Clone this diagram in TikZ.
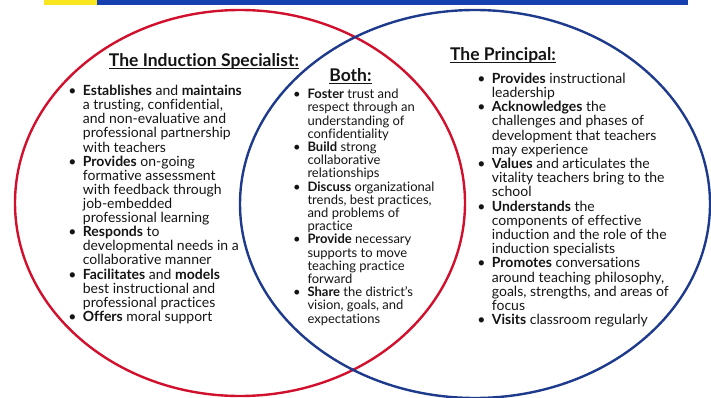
\documentclass[tikz,border=0pt]{standalone}
\usepackage{fontspec}
\setmainfont{Lato}[Ligatures=NoCommon]
\definecolor{ringred}{RGB}{208,16,44}
\definecolor{ringblue}{RGB}{30,58,140}
\definecolor{barblue}{RGB}{22,64,176}
\definecolor{baryellow}{RGB}{250,230,30}
\definecolor{txt}{RGB}{20,20,20}
\newcommand\bul{\llap{\makebox[21pt][c]{\textbullet}}}
\begin{document}
\begin{tikzpicture}[x=1pt,y=-1pt,
  body/.style={anchor=base west, inner sep=0pt, font=\fontsize{14}{14}\selectfont, text=txt},
  bodysm/.style={body, font=\fontsize{13}{13}\selectfont},
  title/.style={anchor=base, inner sep=0pt, font=\bfseries\fontsize{17.5}{17.5}\selectfont, text=txt},
  ring/.style={line width=2.4pt},
  uline/.style={line width=1.3pt, draw=txt},
]
\useasboundingbox (0,0) rectangle (711,398);
% top bar
\fill[baryellow] (44,0) rectangle (97,4.6);
\fill[barblue] (97,0) rectangle (688,4.6);
% rings
\draw[ring, ringred] (240,203) ellipse [x radius=225pt, y radius=193pt];
\draw[ring, ringblue] (475,204) ellipse [x radius=235pt, y radius=194pt];
% titles
\node[title] (T1) at (204,66.7) {The Induction Specialist:};
\node[title] (T2) at (350.5,81.5) {Both:};
\node[title] (T3) at (503,60.7) {The Principal:};
\foreach \n in {T1,T2,T3}
  \draw[uline] ([yshift=-2pt]\n.base west) -- ([yshift=-2pt]\n.base east);
% left list
\foreach \t [count=\i from 0] in {
  {\bul\textbf{Establishes} and \textbf{maintains}},
  {a trusting, confidential,},
  {and non-evaluative and},
  {professional partnership},
  {with teachers},
  {\bul\textbf{Provides} on-going},
  {formative assessment},
  {with feedback through},
  {job-embedded},
  {professional learning},
  {\bul\textbf{Responds} to},
  {developmental needs in a},
  {collaborative manner},
  {\bul\textbf{Facilitates} and \textbf{models}},
  {best instructional and},
  {professional practices},
  {\bul\textbf{Offers} moral support}}
  \node[body] (L\i) at (82.7,{95.7+\i*14.1}) {\t};
% middle list
\foreach \t [count=\i from 0] in {
  {\bul\textbf{Foster} trust and},
  {respect through an},
  {understanding of},
  {confidentiality},
  {\bul\textbf{Build} strong},
  {collaborative},
  {relationships},
  {\bul\textbf{Discuss} organizational},
  {trends, best practices,},
  {and problems of},
  {practice},
  {\bul\textbf{Provide} necessary},
  {supports to move},
  {teaching practice},
  {forward},
  {\bul\textbf{Share} the district's},
  {vision, goals, and},
  {expectations}}
  \node[bodysm] (M\i) at (307.3,{98.7+\i*13.2}) {\t};
% right list
\foreach \t [count=\i from 0] in {
  {\bul\textbf{Provides} instructional},
  {leadership},
  {\bul\textbf{Acknowledges} the},
  {challenges and phases of},
  {development that teachers},
  {may experience},
  {\bul\textbf{Values} and articulates the},
  {vitality teachers bring to the},
  {school},
  {\bul\textbf{Understands} the},
  {components of effective},
  {induction and the role of the},
  {induction specialists},
  {\bul\textbf{Promotes} conversations},
  {around teaching philosophy,},
  {goals, strengths, and areas of},
  {focus},
  {\bul\textbf{Visits} classroom regularly}}
  \node[body] (R\i) at (491.7,{83.3+\i*14.2}) {\t};
\end{tikzpicture}
\end{document}
